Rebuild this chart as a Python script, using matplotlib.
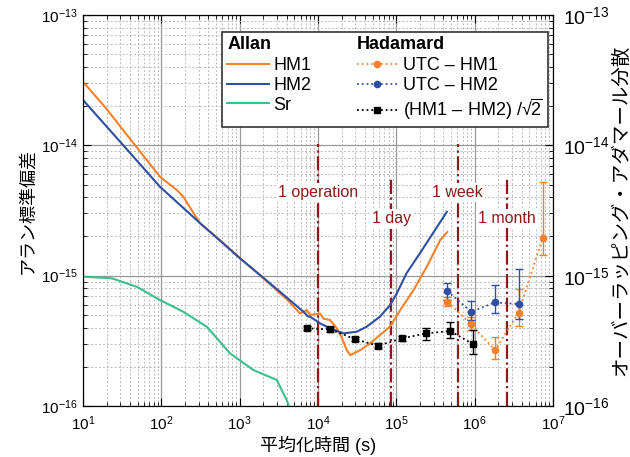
import numpy as np
import matplotlib
matplotlib.use("Agg")
import matplotlib.pyplot as plt
from matplotlib.legend_handler import HandlerBase
from matplotlib.text import Text

plt.rcParams['font.family'] = ['Liberation Sans', 'Noto Sans CJK JP', 'DejaVu Sans']
plt.rcParams['mathtext.fontset'] = 'custom'
plt.rcParams['mathtext.rm'] = 'Liberation Sans'
plt.rcParams['mathtext.it'] = 'Liberation Sans:italic'

# ---- data (log10 tau, log10 sigma) ----
hm1_logtau = [1.0, 1.3, 1.6, 1.983, 2.197, 2.28, 2.494, 2.75, 3.005, 3.26, 3.516, 3.6, 3.77,
              3.857, 3.9, 4.027, 4.07, 4.155, 4.24, 4.30, 4.367, 4.41, 4.54, 4.665, 4.79,
              4.92, 5.05, 5.22, 5.39, 5.56, 5.65]
hm1_logsig = [-13.512, -13.72, -13.95, -14.241, -14.343, -14.394, -14.599, -14.727, -14.867,
              -14.995, -15.136, -15.18, -15.29, -15.264, -15.302, -15.29, -15.33, -15.34,
              -15.404, -15.47, -15.571, -15.61, -15.571, -15.52, -15.456, -15.39, -15.264,
              -15.11, -14.93, -14.727, -14.665]

hm2_logtau = [1.0, 1.5, 1.983, 2.5, 3.005, 3.516, 3.814, 3.877, 3.9, 4.027, 4.155, 4.325,
              4.495, 4.62, 4.79, 4.92, 5.006, 5.13, 5.30, 5.645]
hm2_logsig = [-13.652, -13.99, -14.318, -14.60, -14.867, -15.124, -15.277, -15.315, -15.315,
              -15.366, -15.404, -15.443, -15.43, -15.392, -15.315, -15.226, -15.136, -14.982,
              -14.829, -14.51]

sr_logtau = [1.0, 1.366, 1.685, 1.983, 2.28, 2.58, 2.877, 3.175, 3.473, 3.60, 3.66]
sr_logsig = [-15.008, -15.02, -15.085, -15.187, -15.277, -15.392, -15.596, -15.724, -15.80,
             -15.955, -16.05]

diff_logtau = [3.857, 4.155, 4.474, 4.763, 5.07, 5.376, 5.687, 5.985]
diff_logsig = [-15.404, -15.412, -15.487, -15.538, -15.482, -15.443, -15.425, -15.527]
diff_lo = [-15.42, -15.43, -15.50, -15.555, -15.50, -15.49, -15.482, -15.60]
diff_hi = [-15.39, -15.395, -15.47, -15.52, -15.46, -15.40, -15.354, -15.417]

utc1_logtau = [5.653, 5.955, 6.26, 6.56, 6.866]
utc1_logsig = [-15.2, -15.374, -15.571, -15.285, -14.714]
utc1_lo = [-15.23, -15.417, -15.64, -15.387, -14.842]
utc1_hi = [-15.16, -15.315, -15.47, -15.10, -14.279]

utc2_logtau = [5.653, 5.955, 6.26, 6.56]
utc2_logsig = [-15.118, -15.277, -15.205, -15.218]
utc2_lo = [-15.187, -15.34, -15.29, -15.335]
utc2_hi = [-15.06, -15.195, -15.07, -14.95]

events = ["1 operation", "1 day", "1 week", "1 month"]
event_tau = [1e4, 86400, 604800, 2592000]
event_top = [-13.99, -14.243, -13.99, -14.243]
event_text_y = [-14.365, -14.565, -14.365, -14.56]

C_HM1 = '#f5822a'
C_HM2 = '#2f4fa2'
C_SR = '#3dbf8a'
C_RED = '#8b1a1a'

p = lambda a: 10 ** np.asarray(a)

fig = plt.figure(figsize=(6.3, 4.57), dpi=100)
ax = fig.add_axes([83/630, 1-406/457, (553-83)/630, (406-15)/457])
ax.set_xscale('log'); ax.set_yscale('log')
ax.set_xlim(10, 1e7); ax.set_ylim(1e-16, 1e-13)

ax.grid(True, which='major', color='#999999', lw=0.9, ls='-')
ax.grid(True, which='minor', color='#bbbbbb', lw=0.7, ls=(0, (2, 2)))
ax.set_axisbelow(True)

# event lines
for tau, top, ty, lab in zip(event_tau, event_top, event_text_y, events):
    ax.plot([tau, tau], [1e-16, 10**top], color=C_RED, lw=1.6, ls='-.', zorder=2)
    ax.text(tau, 10**ty, lab, color=C_RED, fontsize=11.5, ha='center', va='center', zorder=3,
            bbox=dict(facecolor='white', edgecolor='none', pad=1.5))

l1, = ax.plot(p(hm1_logtau), p(hm1_logsig), color=C_HM1, lw=1.5, zorder=4)
l2, = ax.plot(p(hm2_logtau), p(hm2_logsig), color=C_HM2, lw=1.5, zorder=4)
l3, = ax.plot(p(sr_logtau), p(sr_logsig), color=C_SR, lw=1.5, zorder=4)

def had(lt, ls_, lo, hi, c, marker, ms):
    x = p(lt); y = p(ls_)
    yerr = [y - p(lo), p(hi) - y]
    ax.errorbar(x, y, yerr=yerr, fmt='none', ecolor=c, elinewidth=1.0, capsize=3, capthick=1.0, zorder=5)
    ln, = ax.plot(x, y, color=c, ls=':', lw=1.3, marker=marker, ms=ms, zorder=6)
    return ln

h1 = had(utc1_logtau, utc1_logsig, utc1_lo, utc1_hi, C_HM1, 'o', 4.5)
h2 = had(utc2_logtau, utc2_logsig, utc2_lo, utc2_hi, C_HM2, 'o', 4.5)
h3 = had(diff_logtau, diff_logsig, diff_lo, diff_hi, 'black', 's', 4.5)

ax.tick_params(which='both', direction='in', top=True, right=True, labelsize=11, colors='black')
ax.tick_params(which='major', length=6)
ax.tick_params(which='minor', length=3)
ax.set_xticks([10**k for k in range(1, 8)])
ax.set_xticklabels([f'$10^{{{k}}}$' for k in range(1, 8)])
ax.set_yticks([10**k for k in range(-16, -12)])
ax.set_yticklabels([f'$10^{{{k}}}$' for k in range(-16, -12)])
ax.tick_params(axis='x', pad=6)

ax.set_xlabel('平均化時間 (s)', fontsize=13, labelpad=2)
ax.set_ylabel('アラン標準偏差', fontsize=13, labelpad=4)

# right axis labels
ax2 = ax.twinx()
ax2.set_yscale('log'); ax2.set_ylim(1e-16, 1e-13)
ax2.set_yticks([10**k for k in range(-16, -12)])
ax2.set_yticklabels([f'$10^{{{k}}}$' for k in range(-16, -12)])
ax2.yaxis.set_minor_formatter(matplotlib.ticker.NullFormatter())
ax2.tick_params(which='both', direction='in', labelsize=14, pad=7)
ax2.tick_params(which='major', length=6)
ax2.tick_params(which='minor', length=3)
ax2.set_ylabel('オーバーラッピング・アダマール分散', fontsize=14, labelpad=2)

class HeaderHandler(HandlerBase):
    def create_artists(self, legend, orig_handle, xdescent, ydescent, width, height, fontsize, trans):
        t = Text(-xdescent, -ydescent + height / 2, orig_handle.get_text(), fontsize=fontsize,
                 fontweight='bold', va='center', ha='left', transform=trans,
                 fontfamily='Liberation Sans')
        return [t]

hdrA = Text(0, 0, 'Allan')
hdrH = Text(0, 0, 'Hadamard')
handles = [hdrA, l1, l2, l3, hdrH, h1, h2, h3]
labels = ['', 'HM1', 'HM2', 'Sr', '', 'UTC – HM1', 'UTC – HM2', r'(HM1 – HM2) /√$\overline{2}$']
leg = ax2.legend(handles, labels, ncol=2, loc='upper left', bbox_to_anchor=(139/470, 1-17/391),
                 fontsize=13, frameon=True, fancybox=False, edgecolor='#333333', framealpha=1,
                 handlelength=2.3, handletextpad=0.25, columnspacing=2.5, labelspacing=0.15,
                 borderpad=0.3, borderaxespad=0, handler_map={Text: HeaderHandler()})
leg.get_frame().set_linewidth(1.2)

fig.savefig('out.png', dpi=100)
